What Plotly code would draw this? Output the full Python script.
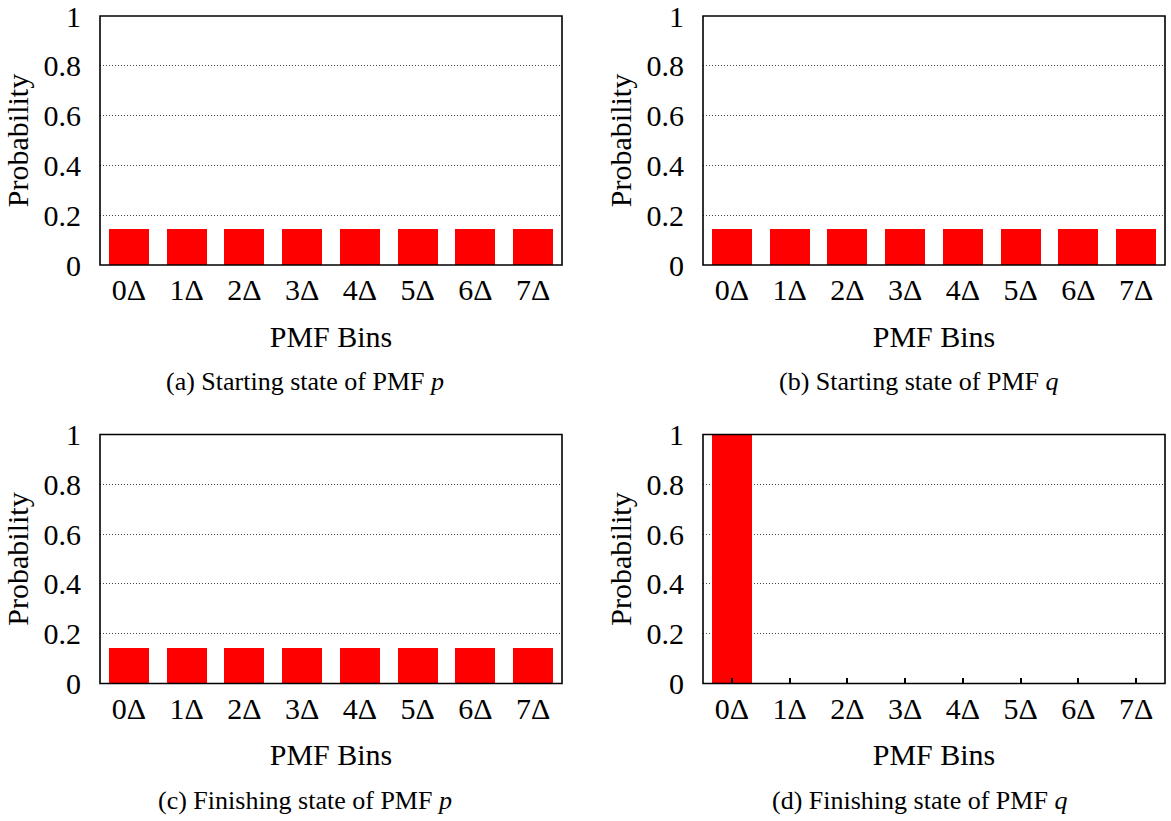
import plotly.graph_objects as go
from plotly.subplots import make_subplots

bins = ["0Δ", "1Δ", "2Δ", "3Δ", "4Δ", "5Δ", "6Δ", "7Δ"]
p_start = [0.143, 0.143, 0.143, 0.143, 0.143, 0.143, 0.143, 0.143]
q_start = [0.143, 0.143, 0.143, 0.143, 0.143, 0.143, 0.143, 0.143]
p_finish = [0.143, 0.143, 0.143, 0.143, 0.143, 0.143, 0.143, 0.143]
q_finish = [1.0, 0.0, 0.0, 0.0, 0.0, 0.0, 0.0, 0.0]
y_ticks = [0, 0.2, 0.4, 0.6, 0.8, 1]
y_ticktext = ["0", "0.2", "0.4", "0.6", "0.8", "1"]
captions = [
    "(a) Starting state of PMF <i>p</i>",
    "(b) Starting state of PMF <i>q</i>",
    "(c) Finishing state of PMF <i>p</i>",
    "(d) Finishing state of PMF <i>q</i>",
]

W, H = 1171, 821
FONT = "Liberation Serif, DejaVu Serif, serif"

fig = make_subplots(rows=2, cols=2)
series = [p_start, q_start, p_finish, q_finish]
pos = [(1, 1), (1, 2), (2, 1), (2, 2)]
for s, (r, c) in zip(series, pos):
    fig.add_trace(go.Bar(x=bins, y=s, width=0.69, marker=dict(color="#ff0000", line=dict(width=0)),
                         showlegend=False), row=r, col=c)

xdom = [[100 / W, 562 / W], [703 / W, 1165 / W]]
ydom = [[1 - 265 / H, 1 - 16 / H], [1 - 683.5 / H, 1 - 434.5 / H]]

for i, (r, c) in enumerate(pos):
    n = i + 1
    xa = "xaxis" if n == 1 else f"xaxis{n}"
    ya = "yaxis" if n == 1 else f"yaxis{n}"
    fig.layout[xa].update(
        domain=xdom[c - 1], range=[-0.5, 7.5], type="category", automargin=False,
        showline=False, ticks="inside", ticklen=6, tickwidth=1.5, tickcolor="black",
        showgrid=False, zeroline=False, layer="above traces" if n == 4 else "below traces",
        tickfont=dict(family=FONT, size=30, color="black"),
        ticklabelstandoff=4, ticklabeloverflow="allow",
        title=dict(text="PMF Bins", font=dict(family=FONT, size=30, color="black"), standoff=20),
    )
    fig.layout[ya].update(
        domain=ydom[r - 1], range=[0, 1], tickvals=y_ticks, ticktext=y_ticktext, automargin=False,
        showline=False, ticks="", showgrid=True, gridcolor="#444444", griddash="1px,2px", gridwidth=1,
        zeroline=False, layer="below traces",
        tickfont=dict(family=FONT, size=30, color="black"),
        ticklabelstandoff=18, ticklabeloverflow="allow",
        title=dict(text="Probability", font=dict(family=FONT, size=30, color="black"), standoff=6),
    )
    xr = "x" if n == 1 else f"x{n}"
    yr = "y" if n == 1 else f"y{n}"
    fig.add_shape(type="rect", xref=f"{xr} domain", yref=f"{yr} domain", x0=0, x1=1, y0=0, y1=1,
                  line=dict(color="black", width=1.6), fillcolor="rgba(0,0,0,0)", layer="above")

cap_x = [305 / W, 919 / W]
cap_y = [1 - 381 / H, 1 - 800 / H]
for i, (r, c) in enumerate(pos):
    fig.add_annotation(text=captions[i], xref="paper", yref="paper", x=cap_x[c - 1], y=cap_y[r - 1],
                       xanchor="center", yanchor="middle", showarrow=False,
                       font=dict(family=FONT, size=26, color="black"))

fig.update_layout(width=W, height=H, margin=dict(l=0, r=0, t=0, b=0, autoexpand=False),
                  plot_bgcolor="white", paper_bgcolor="white", bargap=0)
fig.write_html("out.html")
